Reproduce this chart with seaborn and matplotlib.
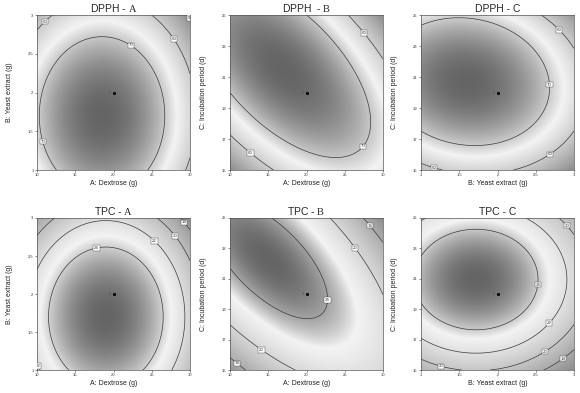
import numpy as np
import matplotlib as mpl
import matplotlib.pyplot as plt
import seaborn as sns
from matplotlib.colors import LinearSegmentedColormap, TwoSlopeNorm

# factor ranges, ticks and axis titles
dextrose_range = [10, 30]
dextrose_ticks = [10, 15, 20, 25, 30]
yeast_range = [1, 3]
yeast_ticks = [1, 1.5, 2, 2.5, 3]
incubation_range = [15, 25]
incubation_ticks = [15, 17, 19, 21, 23, 25]
axis_titles = {
    'A': 'A: Dextrose (g)',
    'B': 'B: Yeast extract (g)',
    'C': 'C: Incubation period (d)',
}

# quadratic models in coded units: b0, b_x, b_y, b_xy, b_xx, b_yy
dpph_a_coef = [77.04, -3.57, -4.61, 0.0, -11.90, -7.69]
dpph_b_coef = [77.03, -2.23, 2.23, -11.08, -9.25, -9.25]
dpph_c_coef = [77.69, -6.02, 2.99, -2.00, -7.87, -13.52]
tpc_a_coef = [25.94, -0.79, -1.58, 0.0, -3.95, -2.63]
tpc_b_coef = [24.60, -1.33, 0.78, -4.38, -3.30, -3.30]
tpc_c_coef = [25.39, -1.49, 1.52, 0.0, -2.65, -3.99]

# contour levels drawn on each panel
dpph_a_levels = [50, 60, 70]
dpph_b_levels = [60, 70]
dpph_c_levels = [60, 70]
tpc_a_levels = [18, 20, 22, 24]
tpc_b_levels = [16, 20, 24]
tpc_c_levels = [18, 20, 22, 24]

# design centre point and its replicate count
center_a, center_b, center_c = 20, 2, 20
center_reps = 6

factors = {
    'A': (dextrose_range, dextrose_ticks, center_a),
    'B': (yeast_range, yeast_ticks, center_b),
    'C': (incubation_range, incubation_ticks, center_c),
}

# where the contour value boxes sit
label_spots = [
    [(10.7, 2.95), (22.2, 2.6), (27.3, 2.65), (29.2, 2.9), (10.9, 1.37)],
    [(27.4, 23.8), (27.5, 16.5), (12.7, 16.1)],
    [(2.78, 23.9), (2.67, 20.5), (2.67, 16.1), (1.19, 15.5)],
    [(28.5, 2.88), (27.4, 2.71), (24.7, 2.63), (17.8, 2.6), (10.5, 1.07)],
    [(28.8, 24.7), (26.8, 23.2), (22.5, 19.6), (14.5, 16.6), (11.2, 15.6)],
    [(2.84, 24.2), (2.54, 20.6), (2.71, 17.95), (2.64, 16.05), (2.88, 15.55), (1.28, 15.6)],
]

panels = [
    ('DPPH', 'A', 'A', 'B', dpph_a_coef, dpph_a_levels),
    ('DPPH ', 'B', 'A', 'C', dpph_b_coef, dpph_b_levels),
    ('DPPH', 'C', 'B', 'C', dpph_c_coef, dpph_c_levels),
    ('TPC', 'A', 'A', 'B', tpc_a_coef, tpc_a_levels),
    ('TPC', 'B', 'A', 'C', tpc_b_coef, tpc_b_levels),
    ('TPC', 'C', 'B', 'C', tpc_c_coef, tpc_c_levels),
]

sns.set_theme(style='ticks')
plt.rcParams['font.family'] = ['Liberation Sans', 'DejaVu Sans']
plt.rcParams['mathtext.fontset'] = 'custom'
plt.rcParams['mathtext.rm'] = 'Liberation Serif'

shade = LinearSegmentedColormap.from_list('shade', ['#8c8c8c', '#f3f3f3', '#656565'])

fig = plt.figure(figsize=(5.8, 3.93), dpi=100)
lefts = [37 / 580, 230 / 580, 421 / 580]
rows = [(0.5674, 0.3944), (0.0585, 0.3868)]

g = np.linspace(-1, 1, 240)
U, V = np.meshgrid(g, g)

for i, (resp, letter, fx, fy, coef, levels) in enumerate(panels):
    bottom, height = rows[i // 3]
    ax = fig.add_axes([lefts[i % 3], bottom, 153 / 580, height])

    b0, bx, by, bxy, bxx, byy = coef
    Z = b0 + bx * U + by * V + bxy * U * V + bxx * U ** 2 + byy * V ** 2

    (xr, xt, xc), (yr, yt, yc) = factors[fx], factors[fy]
    X = xc + U * (xr[1] - xr[0]) / 2
    Y = yc + V * (yr[1] - yr[0]) / 2

    step = levels[-1] - levels[-2]
    norm = TwoSlopeNorm(vmin=Z.min(), vcenter=levels[-1] - 0.35 * step, vmax=Z.max())
    ax.imshow(Z, extent=[xr[0], xr[1], yr[0], yr[1]], origin='lower',
              cmap=shade, norm=norm, aspect='auto', interpolation='bilinear')

    cs = ax.contour(X, Y, Z, levels=levels, colors='#3a3a3a', linewidths=0.5)
    labels = ax.clabel(cs, fmt='%d', fontsize=3.2, inline=False, manual=label_spots[i])
    for t in labels:
        t.set_rotation(0)
        t.set_bbox(dict(facecolor='white', edgecolor='#444444', pad=0.5, linewidth=0.3))

    sns.scatterplot(x=[xc], y=[yc], ax=ax, color='black', s=5, linewidth=0, legend=False)
    ax.annotate(str(center_reps), (xc, yc), xytext=(-1.5, 0), textcoords='offset points',
                fontsize=2.8, color='#555555', ha='right', va='center')

    ax.set_xlim(xr)
    ax.set_ylim(yr)
    ax.set_xticks(xt)
    ax.set_yticks(yt)
    ax.set_xticklabels([f'{v:g}' for v in xt])
    ax.set_yticklabels([f'{v:g}' for v in yt])
    ax.tick_params(labelsize=3, length=1.5, width=0.4, pad=1, colors='#333333')
    for s in ax.spines.values():
        s.set_linewidth(0.5)
        s.set_color('#555555')
    ax.set_xlabel(axis_titles[fx], fontsize=5, labelpad=2, color='#222222')
    ax.set_ylabel(axis_titles[fy], fontsize=5, labelpad=11, color='#222222')
    ax.set_title(f'{resp} - $\\mathrm{{{letter}}}$' if letter != 'C' else f'{resp} - C',
                 fontsize=7.5, pad=2.5)

fig.savefig('out.png', dpi=100)
